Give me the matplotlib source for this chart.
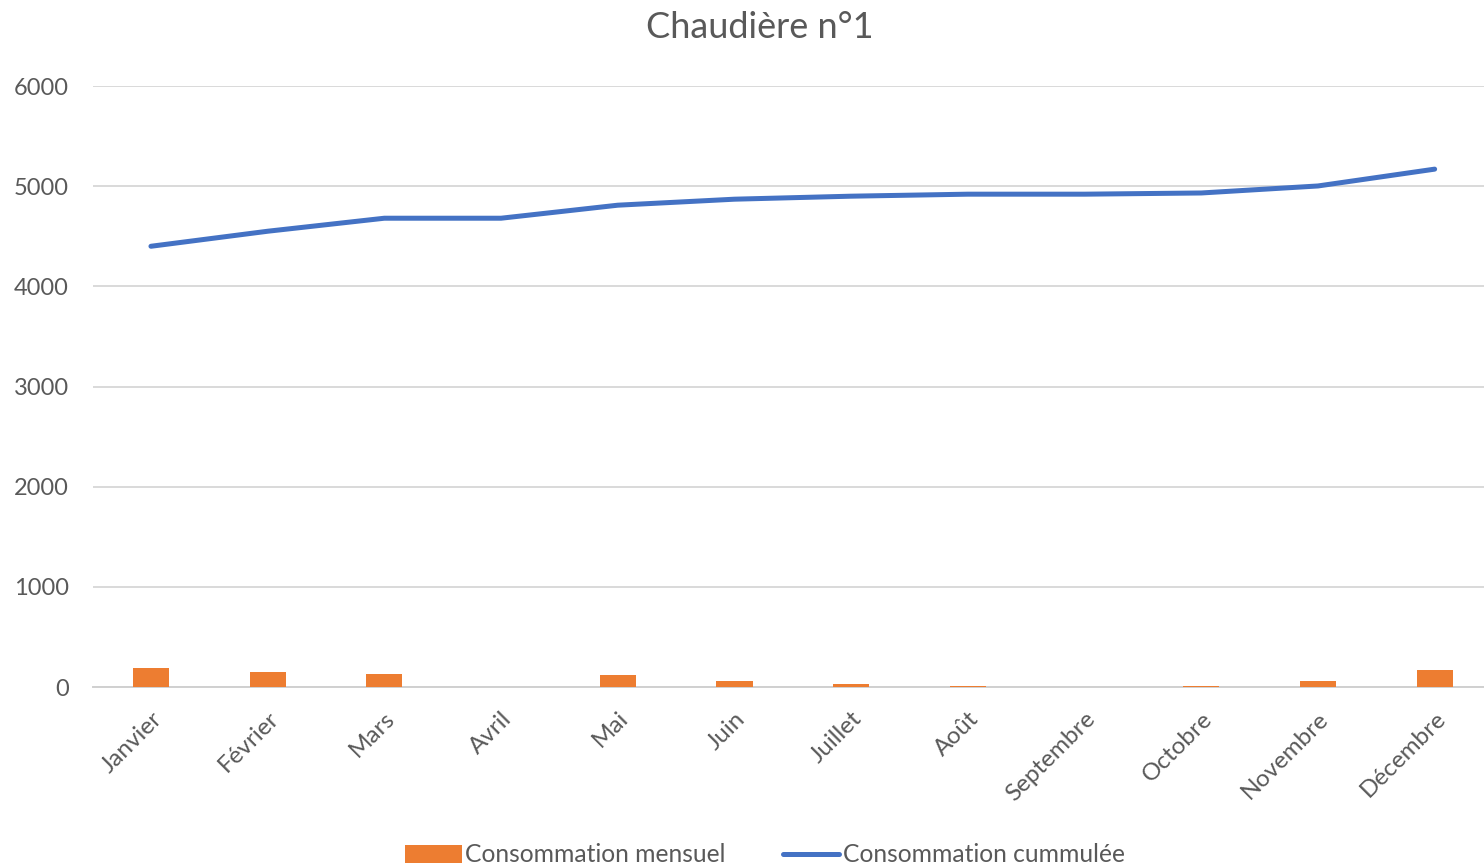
import matplotlib.pyplot as plt
import numpy as np

mois = ['Janvier', 'Février', 'Mars', 'Avril', 'Mai', 'Juin', 'Juillet',
        'Août', 'Septembre', 'Octobre', 'Novembre', 'Décembre']
conso_mensuelle = [190, 150, 130, 0, 115, 60, 25, 12, 0, 8, 60, 165]
conso_cumulee = [4400, 4550, 4680, 4680, 4810, 4870, 4900, 4920, 4920, 4932, 5002, 5170]

plt.rcParams['font.family'] = ['Lato', 'DejaVu Sans']

fig = plt.figure(figsize=(14.84, 8.68), dpi=100)
ax = fig.add_axes([92.6 / 1484, 181 / 868, 1400.4 / 1484, 601 / 868])

x = np.arange(len(mois))
barres = ax.bar(x, conso_mensuelle, width=0.31, color='#ED7D31', label='Consommation mensuel', zorder=3)
ligne, = ax.plot(x, conso_cumulee, color='#4472C4', linewidth=3.6, solid_capstyle='round',
                 label='Consommation cummulée', zorder=4)

ax.set_xlim(-0.5, len(mois) - 0.5)
ax.set_ylim(0, 6000)
ax.set_yticks(range(0, 6001, 1000))
ax.set_xticks(x)
ax.set_xticklabels(mois, rotation=45, ha='right', rotation_mode='anchor')

ax.grid(axis='y', color='#D9D9D9', linewidth=1.4, zorder=0)
for s in ['top', 'right', 'left']:
    ax.spines[s].set_visible(False)
ax.spines['bottom'].set_color('#D0D0D0')
ax.spines['bottom'].set_linewidth(1.4)
ax.tick_params(axis='both', length=0, colors='#595959')
ax.tick_params(axis='y', pad=17, labelsize=17)
ax.tick_params(axis='x', pad=15, labelsize=17.5)

fig.text(760 / 1484, 1 - 27 / 868, 'Chaudière n°1', ha='center', va='center',
         fontsize=26, color='#595959')

leg = fig.legend([barres, ligne], ['Consommation mensuel', 'Consommation cummulée'],
                 loc='center', bbox_to_anchor=(765 / 1484, 1 - 855 / 868), ncol=2,
                 frameon=False, fontsize=17.7, handlelength=2.3, columnspacing=2.3,
                 handletextpad=0.15)
for t in leg.get_texts():
    t.set_color('#595959')

fig.savefig('out.png', dpi=100)
